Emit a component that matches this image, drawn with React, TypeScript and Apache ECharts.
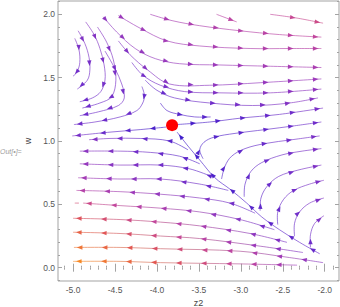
import React, { useEffect, useRef } from "react";
import * as echarts from "echarts";

type Stream = { pts: number[][]; speed: number[] };

// ---- axes / ticks ----
const xTickValues = [-5.0, -4.5, -4.0, -3.5, -3.0, -2.5, -2.0];
const yTickValues = [0.0, 0.5, 1.0, 1.5, 2.0];
const xRange = [-5.18, -1.83];
const yRange = [-0.105, 2.105];

// ---- fixed point (red dot) ----
const fixedPoint = [[-3.82, 1.125]];

// ---- streamlines, points in flow order; speed = [start, end] (0 slow .. 1 fast) ----
const downLeftLines: Stream[] = [
  { pts: [[-4.98, 1.81], [-4.93, 1.72], [-4.92, 1.62], [-4.95, 1.55], [-5.0, 1.51]], speed: [0.32, 0.26] },
  { pts: [[-4.94, 1.87], [-4.86, 1.77], [-4.81, 1.66], [-4.8, 1.56], [-4.83, 1.48], [-4.95, 1.41]], speed: [0.34, 0.24] },
  { pts: [[-4.85, 1.94], [-4.75, 1.84], [-4.68, 1.73], [-4.63, 1.6], [-4.62, 1.48], [-4.67, 1.39], [-4.77, 1.34], [-4.92, 1.31]], speed: [0.36, 0.24] },
  { pts: [[-4.71, 1.9], [-4.6, 1.78], [-4.52, 1.64], [-4.49, 1.48], [-4.54, 1.35], [-4.68, 1.3], [-4.89, 1.26]], speed: [0.36, 0.24] },
  { pts: [[-4.62, 1.71], [-4.5, 1.57], [-4.42, 1.45], [-4.39, 1.34], [-4.46, 1.28], [-4.7, 1.23], [-4.92, 1.2]], speed: [0.3, 0.24] },
  { pts: [[-4.18, 1.43], [-4.15, 1.36], [-4.17, 1.3], [-4.24, 1.24], [-4.44, 1.19], [-4.74, 1.15], [-4.99, 1.13]], speed: [0.2, 0.26] },
];

const rightLines: Stream[] = [
  { pts: [[-2.65, 2.0], [-2.33, 1.97], [-2.02, 1.93]], speed: [0.6, 0.66] },
  { pts: [[-3.29, 2.0], [-3.05, 1.94]], speed: [0.56, 0.58] },
  { pts: [[-4.08, 2.0], [-3.82, 1.95], [-3.49, 1.91], [-3.01, 1.87], [-2.54, 1.84], [-2.04, 1.82]], speed: [0.48, 0.6] },
  { pts: [[-4.46, 1.99], [-4.2, 1.89], [-3.88, 1.79], [-3.49, 1.75], [-2.89, 1.73], [-2.42, 1.73], [-2.04, 1.73]], speed: [0.44, 0.56] },
  { pts: [[-4.64, 1.98], [-4.48, 1.86], [-4.26, 1.73], [-4.02, 1.65], [-3.73, 1.61], [-3.25, 1.6], [-2.65, 1.59], [-2.04, 1.58]], speed: [0.38, 0.5] },
  { pts: [[-4.46, 1.79], [-4.32, 1.68], [-4.11, 1.56], [-3.85, 1.45], [-3.37, 1.44], [-2.77, 1.46], [-2.04, 1.49]], speed: [0.32, 0.45] },
  { pts: [[-4.3, 1.62], [-4.17, 1.52], [-3.96, 1.44], [-3.67, 1.39], [-3.25, 1.38], [-2.65, 1.38], [-2.04, 1.41]], speed: [0.26, 0.4] },
  { pts: [[-4.14, 1.48], [-4.0, 1.4], [-3.79, 1.34], [-3.37, 1.3], [-2.86, 1.28], [-2.42, 1.3], [-2.08, 1.34]], speed: [0.18, 0.36] },
  { pts: [[-3.96, 1.3], [-3.88, 1.24], [-3.73, 1.21], [-3.55, 1.19], [-3.36, 1.19]], speed: [0.12, 0.14] },
  { pts: [[-3.76, 1.13], [-3.37, 1.15], [-3.01, 1.18], [-2.54, 1.21], [-2.02, 1.26]], speed: [0.04, 0.3] },
];

const fanLines: Stream[] = [
  { pts: [[-3.45, 0.86], [-3.49, 0.93], [-3.44, 0.99], [-3.32, 1.03], [-3.07, 1.06], [-2.71, 1.09], [-2.36, 1.12], [-2.04, 1.15]], speed: [0.08, 0.26] },
  { pts: [[-3.23, 0.7], [-3.19, 0.8], [-3.11, 0.88], [-2.95, 0.94], [-2.71, 0.98], [-2.39, 1.01], [-2.06, 1.04]], speed: [0.12, 0.3] },
  { pts: [[-2.96, 0.56], [-2.95, 0.66], [-2.88, 0.76], [-2.75, 0.83], [-2.51, 0.89], [-2.27, 0.92], [-2.04, 0.94]], speed: [0.15, 0.32] },
  { pts: [[-2.77, 0.45], [-2.76, 0.55], [-2.69, 0.64], [-2.55, 0.72], [-2.32, 0.77], [-2.04, 0.81]], speed: [0.16, 0.32] },
  { pts: [[-2.56, 0.34], [-2.56, 0.44], [-2.49, 0.54], [-2.37, 0.61], [-2.18, 0.66], [-2.01, 0.69]], speed: [0.18, 0.32] },
  { pts: [[-2.36, 0.25], [-2.36, 0.35], [-2.3, 0.44], [-2.18, 0.51], [-2.01, 0.55]], speed: [0.2, 0.32] },
  { pts: [[-2.17, 0.16], [-2.17, 0.26], [-2.12, 0.35], [-2.01, 0.41]], speed: [0.22, 0.32] },
];

const separatrix: Stream[] = [
  { pts: [[-2.06, 0.11], [-2.3, 0.2], [-2.54, 0.3], [-2.75, 0.4], [-2.93, 0.51], [-3.13, 0.62], [-3.31, 0.71], [-3.49, 0.85], [-3.63, 0.96], [-3.76, 1.07]], speed: [0.22, 0.02] },
];

const leftLines: Stream[] = [
  { pts: [[-3.89, 1.11], [-4.2, 1.09], [-4.56, 1.07], [-5.01, 1.04]], speed: [0.03, 0.3] },
  { pts: [[-3.63, 0.93], [-3.85, 1.0], [-4.2, 1.02], [-4.56, 1.02], [-4.81, 1.01]], speed: [0.08, 0.34] },
  { pts: [[-3.49, 0.82], [-3.73, 0.88], [-4.08, 0.91], [-4.44, 0.92], [-4.92, 0.92]], speed: [0.12, 0.38] },
  { pts: [[-3.35, 0.72], [-3.61, 0.78], [-3.96, 0.81], [-4.44, 0.81], [-4.92, 0.82]], speed: [0.15, 0.42] },
  { pts: [[-3.15, 0.61], [-3.49, 0.66], [-3.96, 0.7], [-4.44, 0.7], [-4.94, 0.71]], speed: [0.18, 0.48] },
  { pts: [[-2.83, 0.43], [-3.13, 0.51], [-3.49, 0.55], [-3.96, 0.58], [-4.44, 0.6], [-4.96, 0.61]], speed: [0.22, 0.55] },
  { pts: [[-2.6, 0.3], [-3.01, 0.38], [-3.49, 0.44], [-3.96, 0.47], [-4.44, 0.49], [-4.88, 0.51]], speed: [0.26, 0.66] },
  { pts: [[-4.93, 0.51], [-4.98, 0.51]], speed: [0.7, 0.72] },
  { pts: [[-2.45, 0.2], [-2.89, 0.27], [-3.49, 0.33], [-3.96, 0.36], [-4.44, 0.38], [-5.0, 0.39]], speed: [0.3, 0.78] },
  { pts: [[-2.26, 0.12], [-2.77, 0.17], [-3.49, 0.23], [-3.96, 0.25], [-4.44, 0.27], [-5.0, 0.28]], speed: [0.32, 0.86] },
  { pts: [[-2.02, 0.04], [-2.42, 0.08], [-3.01, 0.13], [-3.96, 0.15], [-4.44, 0.16], [-4.99, 0.16]], speed: [0.36, 0.93] },
  { pts: [[-2.33, 0.02], [-3.01, 0.03], [-3.96, 0.04], [-4.44, 0.05], [-5.0, 0.05]], speed: [0.45, 1.0] },
];

const allLines: Stream[] = [...downLeftLines, ...rightLines, ...fanLines, ...separatrix, ...leftLines];

// colour scale for speed
const speedStops = [
  [0.0, [52, 20, 200]],
  [0.25, [106, 38, 200]],
  [0.45, [154, 52, 184]],
  [0.6, [192, 64, 154]],
  [0.8, [224, 80, 78]],
  [1.0, [247, 134, 28]],
] as [number, number[]][];

function colorAt(t: number): string {
  const v = Math.max(0, Math.min(1, t));
  for (let i = 0; i < speedStops.length - 1; i++) {
    const [a, ca] = speedStops[i];
    const [b, cb] = speedStops[i + 1];
    if (v <= b) {
      const f = (v - a) / (b - a);
      const c = ca.map((x, k) => Math.round(x + (cb[k] - x) * f));
      return `rgb(${c[0]},${c[1]},${c[2]})`;
    }
  }
  const c = speedStops[speedStops.length - 1][1];
  return `rgb(${c[0]},${c[1]},${c[2]})`;
}

const xMinor: number[] = [];
for (let i = -51; i <= -19; i++) xMinor.push(i / 10);
const yMinor: number[] = [];
for (let i = -1; i <= 21; i++) yMinor.push(i / 10);

const FRAME = "#a3a3a3";
const LABEL = "#555555";
const FONT = "Liberation Sans";

function xAxisDef(position: string, values: number[], len: number, labels: boolean, extra: any = {}) {
  return {
    type: "value",
    gridIndex: 0,
    position,
    min: xRange[0],
    max: xRange[1],
    axisLine: { show: false },
    splitLine: { show: false },
    axisTick: { show: true, inside: true, length: len, customValues: values, lineStyle: { color: FRAME, width: 1 } },
    axisLabel: labels
      ? { show: true, customValues: values, formatter: (v: number) => v.toFixed(1), margin: 4, color: LABEL, fontSize: 8.5, fontFamily: FONT }
      : { show: false },
    ...extra,
  };
}
function yAxisDef(position: string, values: number[], len: number, labels: boolean, extra: any = {}) {
  return {
    type: "value",
    gridIndex: 0,
    position,
    min: yRange[0],
    max: yRange[1],
    axisLine: { show: false },
    splitLine: { show: false },
    axisTick: { show: true, inside: true, length: len, customValues: values, lineStyle: { color: FRAME, width: 1 } },
    axisLabel: labels
      ? { show: true, customValues: values, formatter: (v: number) => v.toFixed(1), margin: 3, color: LABEL, fontSize: 8.5, fontFamily: FONT }
      : { show: false },
    ...extra,
  };
}

export default function App() {
  const ref = useRef<HTMLDivElement>(null);
  useEffect(() => {
    if (!ref.current) return;
    const chart = echarts.init(ref.current, undefined, { renderer: "svg" });
    const spacing = 25;
    const option: any = {
      animation: false,
      grid: {
        left: 58,
        top: 1,
        width: 281,
        height: 280,
        show: true,
        borderColor: FRAME,
        borderWidth: 1,
        containLabel: false,
        outerBoundsMode: "none",
      },
      xAxis: [
        xAxisDef("bottom", xTickValues, 4, true, {
          name: "z2",
          nameLocation: "middle",
          nameGap: 17,
          nameTextStyle: { color: "#444", fontSize: 9, fontFamily: FONT },
        }),
        xAxisDef("bottom", xMinor, 2, false),
        xAxisDef("top", xTickValues, 4, false),
        xAxisDef("top", xMinor, 2, false),
      ],
      yAxis: [
        yAxisDef("left", yTickValues, 4, true, {
          name: "w",
          nameLocation: "middle",
          nameRotate: 90,
          nameGap: 19,
          nameTextStyle: { color: "#444", fontSize: 9, fontFamily: FONT },
        }),
        yAxisDef("left", yMinor, 2, false),
        yAxisDef("right", yTickValues, 4, false),
        yAxisDef("right", yMinor, 2, false),
      ],
      graphic: [
        {
          type: "text",
          left: 0,
          top: 148,
          style: { text: "Out[•]=", fill: "#a0a0a0", font: `italic 7px ${FONT}` },
        },
      ],
      series: [
        {
          type: "custom",
          xAxisIndex: 0,
          yAxisIndex: 0,
          clip: true,
          silent: true,
          data: allLines.map((l, i) => [l.pts[0][0], l.pts[0][1], i]),
          encode: { x: 0, y: 1 },
          renderItem: (params: any, api: any) => {
            const line = allLines[params.dataIndex];
            const pts = line.pts.map((p) => api.coord(p));
            const segLens: number[] = [];
            let total = 0;
            for (let i = 0; i < pts.length - 1; i++) {
              const d = Math.hypot(pts[i + 1][0] - pts[i][0], pts[i + 1][1] - pts[i][1]);
              segLens.push(d);
              total += d;
            }
            const p0 = pts[0];
            const pN = pts[pts.length - 1];
            const c0 = colorAt(line.speed[0]);
            const c1 = colorAt(line.speed[1]);
            const grad = new echarts.graphic.LinearGradient(
              p0[0], p0[1], pN[0] + 0.01, pN[1] + 0.01,
              [{ offset: 0, color: c0 }, { offset: 1, color: c1 }],
              true
            );
            const children: any[] = [
              {
                type: "polyline",
                shape: { points: pts, smooth: 0.35 },
                style: { stroke: grad, lineWidth: 1, fill: null, opacity: 0.62 },
                silent: true,
              },
            ];
            for (let s = total - 3; s > 5; s -= spacing) {
              let acc = 0;
              let k = 0;
              while (k < segLens.length - 1 && acc + segLens[k] < s) {
                acc += segLens[k];
                k++;
              }
              const len = segLens[k] || 1;
              const f = (s - acc) / len;
              const a = pts[k];
              const b = pts[k + 1];
              const tip = [a[0] + (b[0] - a[0]) * f, a[1] + (b[1] - a[1]) * f];
              const dx = (b[0] - a[0]) / len;
              const dy = (b[1] - a[1]) / len;
              const L = 5.5;
              const W = 2.2;
              const bx = tip[0] - dx * L;
              const by = tip[1] - dy * L;
              const nx = -dy;
              const ny = dx;
              const t = line.speed[0] + (line.speed[1] - line.speed[0]) * (s / total);
              children.push({
                type: "polygon",
                shape: { points: [tip, [bx + nx * W, by + ny * W], [bx - nx * W, by - ny * W]] },
                style: { fill: colorAt(t), opacity: 0.95 },
                silent: true,
              });
            }
            return { type: "group", children };
          },
          z: 2,
        },
        {
          type: "scatter",
          xAxisIndex: 0,
          yAxisIndex: 0,
          data: fixedPoint,
          symbol: "circle",
          symbolSize: 12,
          itemStyle: { color: "#ff0000", opacity: 1 },
          silent: true,
          z: 5,
        },
      ],
    };
    chart.setOption(option);
    return () => chart.dispose();
  }, []);
  return (
    <div
      ref={ref}
      style={{ position: "fixed", left: 0, top: 0, width: 340, height: 307, background: "#fff" }}
    />
  );
}
